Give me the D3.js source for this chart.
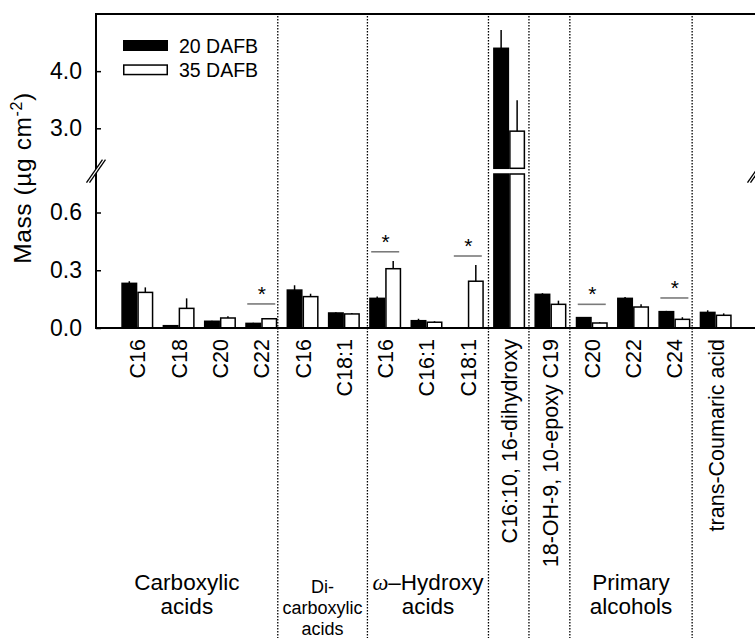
<!DOCTYPE html>
<html>
<head>
<meta charset="utf-8">
<script src="https://cdn.jsdelivr.net/npm/d3@7"></script>
<style>
  html, body { margin: 0; padding: 0; background: #fff; }
  svg { display: block; font-family: "Liberation Sans", Arial, sans-serif; }
</style>
</head>
<body>
<svg id="chart" width="755" height="638"></svg>
<script>
// values (µg cm-2)
const categories = ['C16', 'C18', 'C20', 'C22', 'C16', 'C18:1', 'C16', 'C16:1', 'C18:1',
  'C16:10, 16-dihydroxy', '18-OH-9, 10-epoxy C19', 'C20', 'C22', 'C24', 'trans-Coumaric acid'];
const seriesNames = ['20 DAFB', '35 DAFB'];
const mean20 = [0.232, 0.012, 0.035, 0.024, 0.197, 0.078, 0.154, 0.038, 0, 4.40, 0.175, 0.054, 0.154, 0.085, 0.081];
const se20 = [0.011, 0.003, 0.003, 0.003, 0.025, 0.004, 0.009, 0.010, 0, 0.32, 0.006, 0.003, 0.007, 0.004, 0.011];
const mean35 = [0.185, 0.102, 0.052, 0.048, 0.163, 0.073, 0.308, 0.030, 0.243, 2.95, 0.123, 0.026, 0.109, 0.045, 0.066];
const se35 = [0.026, 0.052, 0.009, 0.004, 0.015, 0.005, 0.040, 0.005, 0.084, 0.54, 0.019, 0.004, 0.014, 0.011, 0.010];
const sigIndex = [3, 6, 8, 11, 13];
const sigLevel = [0.125, 0.396, 0.374, 0.123, 0.156];
const groupEdges = [4.4, 6.57, 9.5, 10.48, 11.47, 14.43];
const groupNames = [['Carboxylic', 'acids'], ['Di-', 'carboxylic', 'acids'], ['ω–Hydroxy', 'acids'], [], [], ['Primary', 'alcohols'], []];
const lowTicks = [0, 0.3, 0.6];
const highTicks = [3, 4];

(function () {
  'use strict';

  const svg = d3.select('#chart');
  const left = 96;
  const right = 757;
  const top = 14;
  const bottom = 328;
  const breakLow = 0.8;
  const breakHigh = 2.3;
  const barW = 16;

  const x = d3.scaleLinear().domain([0, categories.length + 1]).range([left, right]);
  const yLow = d3.scaleLinear().domain([0, breakLow]).range([bottom, 174]);
  const yHigh = d3.scaleLinear().domain([breakHigh, 5]).range([168.3, top]);

  function yOf(v) { return v <= breakLow ? yLow(v) : yHigh(v); }
  function spans(v) {
    if (v <= breakLow) return [[yLow(0), yLow(v)]];
    return [[yLow(0), yLow(breakLow)], [yHigh(breakHigh), yHigh(v)]];
  }

  // group separators
  svg.append('g')
    .selectAll('line')
    .data(groupEdges)
    .join('line')
    .attr('x1', function (d) { return x(d); })
    .attr('x2', function (d) { return x(d); })
    .attr('y1', top + 2)
    .attr('y2', 638)
    .attr('stroke', '#000')
    .attr('stroke-width', 1.3)
    .attr('stroke-dasharray', '1.4,1.6');

  // bars
  const series = [
    { mean: mean20, se: se20, fill: '#000', off: -barW },
    { mean: mean35, se: se35, fill: '#fff', off: 0 },
  ];
  const barG = svg.append('g');
  series.forEach(function (s) {
    s.mean.forEach(function (v, i) {
      if (!(v > 0)) return;
      const bx = x(i + 1) + s.off;
      spans(v).forEach(function (sp) {
        barG.append('rect')
          .attr('x', bx + 0.75)
          .attr('y', sp[1])
          .attr('width', barW - 1.5)
          .attr('height', sp[0] - sp[1])
          .attr('fill', s.fill)
          .attr('stroke', '#000')
          .attr('stroke-width', 1.5);
      });
      if (s.se[i] > 0) {
        barG.append('line')
          .attr('x1', bx + barW / 2)
          .attr('x2', bx + barW / 2)
          .attr('y1', yOf(v))
          .attr('y2', yOf(v + s.se[i]))
          .attr('stroke', '#000')
          .attr('stroke-width', 1.5);
      }
    });
  });

  // significance marks
  const sigG = svg.append('g');
  sigIndex.forEach(function (idx, k) {
    const cx = x(idx + 1);
    const yy = yLow(sigLevel[k]);
    sigG.append('line')
      .attr('x1', cx - 14).attr('x2', cx + 14)
      .attr('y1', yy).attr('y2', yy)
      .attr('stroke', '#7a7a7a')
      .attr('stroke-width', 1.6);
    sigG.append('text')
      .attr('x', cx + 0.5)
      .attr('y', yy - 3)
      .attr('text-anchor', 'middle')
      .attr('font-size', 21)
      .text('*');
  });

  // frame
  const frame = svg.append('g').attr('stroke', '#000').attr('fill', 'none');
  frame.append('line').attr('x1', left).attr('x2', left).attr('y1', top - 1).attr('y2', bottom + 1).attr('stroke-width', 2);
  frame.append('line').attr('x1', right).attr('x2', right).attr('y1', top - 1).attr('y2', bottom + 1).attr('stroke-width', 2);
  frame.append('line').attr('x1', left - 1).attr('x2', right + 1).attr('y1', top).attr('y2', top).attr('stroke-width', 2);
  frame.append('line').attr('x1', left - 1).attr('x2', right + 1).attr('y1', bottom).attr('y2', bottom).attr('stroke-width', 1.8);

  // y axes (inward ticks)
  function styleAxis(g) {
    g.select('.domain').remove();
    g.selectAll('.tick line').attr('stroke', '#000').attr('stroke-width', 1.5);
    g.selectAll('.tick text')
      .attr('font-family', '"Liberation Sans", Arial, sans-serif')
      .attr('font-size', 23)
      .attr('fill', '#000');
  }
  svg.append('g')
    .attr('transform', 'translate(' + left + ',0)')
    .call(d3.axisLeft(yLow).tickValues(lowTicks).tickFormat(d3.format('.1f')).tickSizeInner(-5).tickSizeOuter(0).tickPadding(14))
    .call(styleAxis);
  svg.append('g')
    .attr('transform', 'translate(' + left + ',0)')
    .call(d3.axisLeft(yHigh).tickValues(highTicks).tickFormat(d3.format('.1f')).tickSizeInner(-5).tickSizeOuter(0).tickPadding(14))
    .call(styleAxis);

  // axis breaks
  const breakY = (yLow(breakLow) + yHigh(breakHigh)) / 2;
  [left, right].forEach(function (bx) {
    const g = svg.append('g');
    g.append('polygon')
      .attr('points', [
        [bx - 9.5, breakY + 11.5], [bx + 6.5, breakY - 11.5],
        [bx + 9.5, breakY - 11.5], [bx - 6.5, breakY + 11.5],
      ].join(' '))
      .attr('fill', '#fff');
    [0, 3].forEach(function (o) {
      g.append('line')
        .attr('x1', bx - 9.5 + o).attr('y1', breakY + 11.5)
        .attr('x2', bx + 6.5 + o).attr('y2', breakY - 11.5)
        .attr('stroke', '#000')
        .attr('stroke-width', 1.3);
    });
  });

  // y title
  const title = svg.append('text')
    .attr('transform', 'translate(31,' + 178 + ') rotate(-90)')
    .attr('text-anchor', 'middle')
    .attr('font-size', 24.5)
    .attr('letter-spacing', 0.6);
  title.append('tspan').text('Mass (µg cm');
  title.append('tspan').attr('dy', -9).attr('font-size', 16).text('-2');
  title.append('tspan').attr('dy', 9).text(')');

  // category labels
  svg.append('g')
    .selectAll('text')
    .data(categories)
    .join('text')
    .attr('transform', function (d, i) { return 'translate(' + x(i + 1) + ',339) rotate(-90)'; })
    .attr('text-anchor', 'end')
    .attr('dy', '0.37em')
    .attr('font-size', 21.5)
    .text(function (d) { return d; });

  // group labels
  const edges = [0].concat(groupEdges, [categories.length + 1]);
  groupNames.forEach(function (lines, gi) {
    if (!lines.length) return;
    const cx = x((edges[gi] + edges[gi + 1]) / 2);
    const small = lines.length > 2;
    const t = svg.append('text')
      .attr('text-anchor', 'middle')
      .attr('font-size', small ? 18 : 22.5);
    lines.forEach(function (ln, li) {
      const y = small ? 593 + li * 21 : 589.5 + li * 24.5;
      const ts = t.append('tspan').attr('x', cx).attr('y', y);
      if (ln.charAt(0) === 'ω') {
        ts.append('tspan')
          .attr('font-family', '"Liberation Serif", "Times New Roman", serif')
          .attr('font-style', 'italic')
          .text('ω');
        ts.append('tspan').text(ln.slice(1));
      } else {
        ts.text(ln);
      }
    });
  });

  // legend
  const legend = svg.append('g').attr('transform', 'translate(123,40)');
  seriesNames.forEach(function (name, i) {
    legend.append('rect')
      .attr('x', 0.75)
      .attr('y', i * 24.3 + 0.75)
      .attr('width', 43.5)
      .attr('height', 9.5)
      .attr('fill', i === 0 ? '#000' : '#fff')
      .attr('stroke', '#000')
      .attr('stroke-width', 1.5);
    legend.append('text')
      .attr('x', 56)
      .attr('y', i * 24.3 + 12.5)
      .attr('font-size', 19.5)
      .text(name);
  });
})();
</script>
</body>
</html>
